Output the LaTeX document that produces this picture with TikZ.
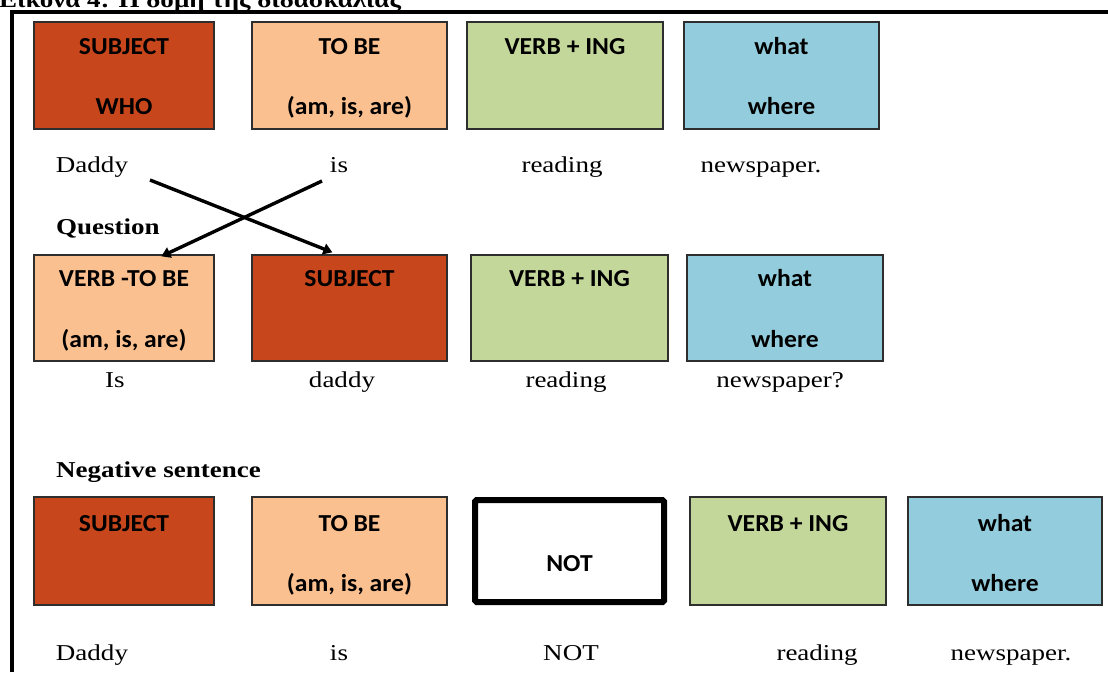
\documentclass[tikz,border=0pt]{standalone}
\usepackage{fontspec}
\setmainfont[FakeStretch=1.19]{Liberation Serif}
\newfontfamily\boxfont[FakeStretch=1.05]{Carlito}
\usetikzlibrary{arrows.meta,positioning}
\tikzset {>={Triangle[length=9pt,width=11pt]}}
\definecolor{subjc}{HTML}{C7461B}
\definecolor{tobec}{HTML}{FBC08F}
\definecolor{verbc}{HTML}{C4D79B}
\definecolor{whatc}{HTML}{93CDDD}
\definecolor{edge}{HTML}{2E2E2E}

\begin{document}
\begin{tikzpicture}[x=1pt,y=-1pt,
  cell/.style={draw=edge,line width=1.3pt,inner sep=0pt},
  hd/.style={font=\boxfont\bfseries\fontsize{24.4}{26}\selectfont,anchor=base,inner sep=0pt},
  word/.style={font=\fontsize{22.7}{25}\selectfont,anchor=base,inner sep=0pt},
  head/.style={font=\bfseries\fontsize{22.7}{25}\selectfont,anchor=base west,inner sep=0pt}]
\useasboundingbox (0,0) rectangle (1108,672);

% frame and caption
\node[head] (cap) at (-1,7) {Εικόνα 4: Η δομή της διδασκαλίας};
\draw[line width=3.2pt] (12,672) -- (12,12) -- (1108,12);

% statement
\node[cell,fill=subjc,minimum width=180pt,minimum height=107pt] (a1) at (124,75.5) {};
\node[cell,fill=tobec,minimum width=195pt,minimum height=107pt] (a2) at (349.5,75.5) {};
\node[cell,fill=verbc,minimum width=196pt,minimum height=107pt] (a3) at (565,75.5) {};
\node[cell,fill=whatc,minimum width=195pt,minimum height=107pt] (a4) at (781.5,75.5) {};
\node[hd] (a1t) at ([yshift=-33pt]a1.north) {SUBJECT};
\node[hd] (a1b) at ([yshift=-93pt]a1.north) {WHO};
\node[hd] (a2t) at ([yshift=-33pt]a2.north) {TO BE};
\node[hd] (a2b) at ([yshift=-93pt]a2.north) {(am, is, are)};
\node[hd] (a3t) at ([yshift=-33pt]a3.north) {VERB + ING};
\node[hd] (a4t) at ([yshift=-33pt]a4.north) {what};
\node[hd] (a4b) at ([yshift=-93pt]a4.north) {where};
\node[word] (w1) at (92,172) {Daddy};
\node[word] (w2) at (339,172) {is};
\node[word] (w3) at (562,172) {reading};
\node[word] (w4) at (761,172) {newspaper.};

% question
\node[head] (qh) at (56,234) {Question};
\node[cell,fill=tobec,minimum width=180pt,minimum height=106pt] (b1) at (124,308) {};
\node[cell,fill=subjc,minimum width=195pt,minimum height=106pt] (b2) at (349.5,308) {};
\node[cell,fill=verbc,minimum width=197pt,minimum height=106pt] (b3) at (569.5,308) {};
\node[cell,fill=whatc,minimum width=196pt,minimum height=106pt] (b4) at (785,308) {};
\node[hd] (b1t) at ([yshift=-32pt]b1.north) {VERB -TO BE};
\node[hd] (b1b) at ([yshift=-93pt]b1.north) {(am, is, are)};
\node[hd] (b2t) at ([yshift=-32pt]b2.north) {SUBJECT};
\node[hd] (b3t) at ([yshift=-32pt]b3.north) {VERB + ING};
\node[hd] (b4t) at ([yshift=-32pt]b4.north) {what};
\node[hd] (b4b) at ([yshift=-93pt]b4.north) {where};
\node[word] (x1) at (115,387) {Is};
\node[word] (x2) at (342,387) {daddy};
\node[word] (x3) at (566,387) {reading};
\node[word] (x4) at (780,387) {newspaper?};

% swap arrows
\coordinate (s1) at (150,180);
\coordinate (s2) at (322,181);
\draw[->,line width=3.4pt] (s1) -- ([xshift=81pt,yshift=2pt]b2.north west);
\draw[->,line width=3.4pt] (s2) -- ([xshift=128pt,yshift=-2pt]b1.north west);

% negative
\node[head] (nh) at (56,477) {Negative sentence};
\node[cell,fill=subjc,minimum width=180pt,minimum height=108pt] (c1) at (124,551) {};
\node[cell,fill=tobec,minimum width=195pt,minimum height=108pt] (c2) at (349.5,551) {};
\node[draw,line width=6pt,rounded corners=1.5pt,inner sep=0pt,minimum width=189pt,minimum height=102pt] (c3) at (569.5,551) {};
\node[cell,fill=verbc,minimum width=196pt,minimum height=108pt] (c4) at (788,551) {};
\node[cell,fill=whatc,minimum width=194pt,minimum height=108pt] (c5) at (1005,551) {};
\node[hd] (c1t) at ([yshift=-35pt]c1.north) {SUBJECT};
\node[hd] (c2t) at ([yshift=-35pt]c2.north) {TO BE};
\node[hd] (c2b) at ([yshift=-95pt]c2.north) {(am, is, are)};
\node[hd] (c3t) at ([yshift=-20pt]c3.center) {NOT};
\node[hd] (c4t) at ([yshift=-35pt]c4.north) {VERB + ING};
\node[hd] (c5t) at ([yshift=-35pt]c5.north) {what};
\node[hd] (c5b) at ([yshift=-95pt]c5.north) {where};
\node[word] (y1) at (92,660) {Daddy};
\node[word] (y2) at (339,660) {is};
\node[word] (y3) at (571,660) {NOT};
\node[word] (y4) at (817,660) {reading};
\node[word] (y5) at (1011,660) {newspaper.};
\end{tikzpicture}
\end{document}
